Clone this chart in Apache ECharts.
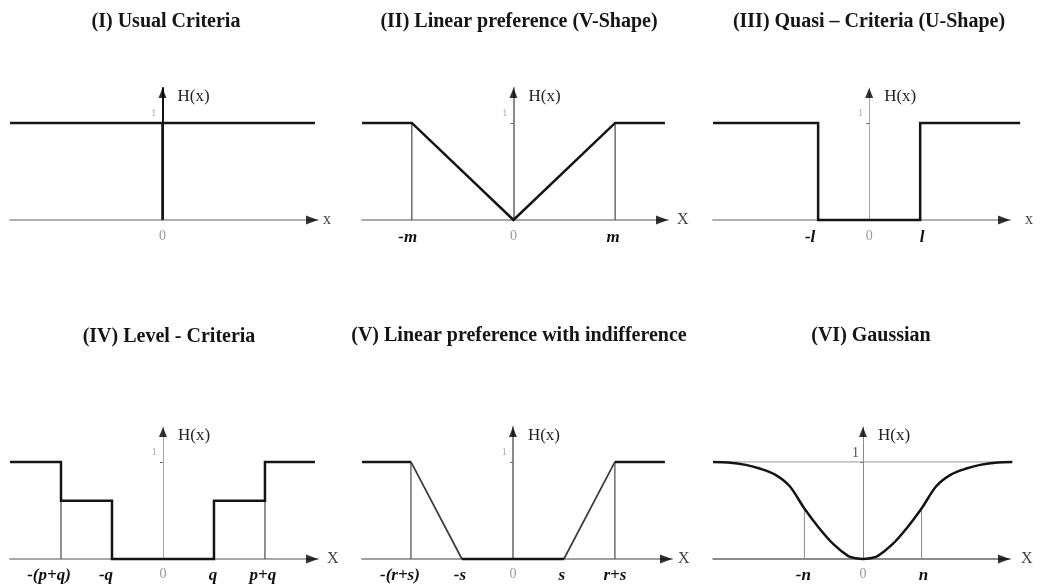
<!DOCTYPE html>
<html>
<head>
<meta charset="utf-8">
<script src="https://cdn.jsdelivr.net/npm/echarts@6/dist/echarts.min.js"></script>
<style>
  html, body { margin: 0; padding: 0; background: #fff; }
  #chart { width: 1042px; height: 586px; }
</style>
</head>
<body>
<div id="chart"></div>
<script>
// ---- panel titles ----
const titles = [
  '(I) Usual Criteria',
  '(II) Linear preference (V-Shape)',
  '(III) Quasi \u2013 Criteria (U-Shape)',
  '(IV) Level - Criteria',
  '(V) Linear preference with indifference',
  '(VI) Gaussian'
];

// ---- breakpoints [x, H(x)] of each preference function ----
const usualH  = [[-3.05, 1], [0, 1], [0, 0], [0, 1], [3.05, 1]];
const vShapeH = [[-1.49, 1], [-1, 1], [0, 0], [1, 1], [1.49, 1]];
const uShapeH = [[-3.06, 1], [-1, 1], [-1, 0], [1, 0], [1, 1], [2.96, 1]];
const levelH  = [[-3.0, 1], [-2, 1], [-2, 0.6], [-1, 0.6], [-1, 0], [1, 0], [1, 0.6], [2, 0.6], [2, 1], [2.98, 1]];
const indiffH = [[-2.96, 1], [-2, 1], [-1, 0], [1, 0], [2, 1], [2.98, 1]];
const gaussX  = [-2.56, -2.3, -2.0, -1.75, -1.5, -1.25, -1.0, -0.75, -0.5, -0.25, -0.12, 0, 0.12, 0.25, 0.5, 0.75, 1.0, 1.25, 1.5, 1.75, 2.0, 2.3, 2.55];
const gaussH  = [1, 0.995, 0.97, 0.93, 0.87, 0.75, 0.52, 0.32, 0.15, 0.03, 0.008, 0, 0.008, 0.03, 0.15, 0.32, 0.52, 0.75, 0.87, 0.93, 0.97, 0.995, 1];

// ---- thin guide lines rising from the x axis: [x, height] ----
const usualDrops  = [];
const vShapeDrops = [[-1, 1], [1, 1]];
const uShapeDrops = [];
const levelDrops  = [[-2, 0.6], [2, 0.6]];
const indiffDrops = [[-2, 1], [2, 1]];
const gaussDrops  = [[-1, 0.52], [1, 0.52]];

// ---- x-axis tick values and labels ----
const usualTicks  = [0];                 const usualLabels  = ['0'];
const vShapeTicks = [-1, 0, 1];          const vShapeLabels = ['-m', '0', 'm'];
const uShapeTicks = [-1, 0, 1];          const uShapeLabels = ['-l', '0', 'l'];
const levelTicks  = [-2, -1, 0, 1, 2];   const levelLabels  = ['-(p+q)', '-q', '0', 'q', 'p+q'];
const indiffTicks = [-2, -1, 0, 1, 2];   const indiffLabels = ['-(r+s)', '-s', '0', 's', 'r+s'];
const gaussTicks  = [-1, 0, 1];          const gaussLabels  = ['-n', '0', 'n'];

// ---- axis extents and names ----
const xRanges = [[-3.05, 3.11], [-1.49, 1.52], [-3.06, 2.76], [-3.0, 3.04], [-2.96, 3.12], [-2.56, 2.51]];
const yMax = 1.36;
const yTicks = [1];
const yTickLabels = ['1'];
const xNames = ['x', 'X', 'x', 'X', 'X', 'X'];
const yName = 'H(x)';

const curves = [usualH, vShapeH, uShapeH, levelH, indiffH, gaussX.map((x, i) => [x, gaussH[i]])];
const drops = [usualDrops, vShapeDrops, uShapeDrops, levelDrops, indiffDrops, gaussDrops];
const ticks = [usualTicks, vShapeTicks, uShapeTicks, levelTicks, indiffTicks, gaussTicks];
const labels = [usualLabels, vShapeLabels, uShapeLabels, levelLabels, indiffLabels, gaussLabels];

// ---- layout and styling of each panel ----
const SERIF = '"Liberation Serif", "Times New Roman", serif';
const layout = [
  { left: 10,  top: 88,  width: 308, title: [166, 20],  nameGap: 5,  shift: [0],
    xLine: { color: '#b0b0b0', width: 2 }, yLine: { color: '#111', width: 2 } },
  { left: 362, top: 88,  width: 306, title: [519, 20],  nameGap: 9,  shift: [4, 0, 2],
    xLine: { color: '#a8a8a8', width: 2 }, yLine: { color: '#8a8a8a', width: 2 } },
  { left: 713, top: 88,  width: 297, title: [869, 20],  nameGap: 15, shift: [8, 0, -2],
    xLine: { color: '#b0b0b0', width: 2 }, yLine: { color: '#a8a8a8', width: 1 } },
  { left: 10,  top: 427, width: 308, title: [169, 335], nameGap: 9,  shift: [12, 6, 0, 1, 2],
    xLine: { color: '#a8a8a8', width: 2 }, yLine: { color: '#a8a8a8', width: 1 } },
  { left: 362, top: 427, width: 310, title: [519, 334], nameGap: 6,  shift: [11, 2, 0, 2, 0], thinSlopes: true,
    xLine: { color: '#a0a0a0', width: 2 }, yLine: { color: '#8a8a8a', width: 2 } },
  { left: 713, top: 427, width: 297, title: [871, 334], nameGap: 11, shift: [1, 0, -2],
    xLine: { color: '#666', width: 1.5 }, yLine: { color: '#888', width: 1 } }
];
const plotHeight = 132;
const N = layout.length;
const CURVE_STYLE = { color: '#141414', width: 2.5, join: 'miter', cap: 'butt' };
const SLOPE_STYLE = { color: '#3a3a3a', width: 1.7, join: 'miter', cap: 'butt' };

const option = { animation: false, title: [], grid: [], xAxis: [], yAxis: [], series: [] };

layout.forEach((L, i) => {
  const [xMin, xMax] = xRanges[i];
  const lastPanel = i === 5;

  option.title.push({
    text: titles[i], left: L.title[0], top: L.title[1] - 8, textAlign: 'center', padding: 0,
    textStyle: { fontFamily: SERIF, fontWeight: 'bold', fontSize: 20, color: '#151515' }
  });

  // axis grid (index i) carries the visible axes; a plot grid (index N + i) with the
  // same scale is widened so curves may run past the x-axis arrow
  option.grid[i] = { left: L.left, top: L.top, width: L.width, height: plotHeight };
  const curveMax = Math.max(xMax, ...curves[i].map(p => p[0]));
  const plotWidth = L.width * (curveMax - xMin) / (xMax - xMin);
  option.grid[N + i] = { left: L.left, top: L.top, width: plotWidth, height: plotHeight };

  // rich styles per tick: value labels in bold italic, the origin in light grey
  const rich = {};
  labels[i].forEach((t, k) => {
    const s = L.shift[k] || 0;
    const pad = [0, s > 0 ? 2 * s : 0, 0, s < 0 ? -2 * s : 0];
    rich['t' + k] = t === '0'
      ? { fontFamily: SERIF, fontSize: 14, color: '#9a9a9a', padding: pad }
      : { fontFamily: SERIF, fontSize: 17, fontWeight: 'bold', fontStyle: 'italic', color: '#111', padding: pad };
  });

  option.xAxis[i] = {
    gridIndex: i, type: 'value', min: xMin, max: xMax,
    axisLine: { show: true, onZero: true, lineStyle: L.xLine },
    axisTick: { show: false },
    splitLine: { show: false },
    axisLabel: {
      show: true, customValues: ticks[i], margin: i < 3 ? 9 : 8,
      formatter: v => { const k = ticks[i].indexOf(v); return '{t' + k + '|' + labels[i][k] + '}'; },
      rich
    },
    name: xNames[i], nameLocation: 'end', nameGap: L.nameGap,
    nameTextStyle: { fontFamily: SERIF, fontSize: 16, color: '#444', verticalAlign: 'middle', align: 'left' }
  };
  option.xAxis[N + i] = { gridIndex: N + i, type: 'value', min: xMin, max: curveMax, show: false };

  option.yAxis[i] = {
    gridIndex: i, type: 'value', min: 0, max: yMax,
    axisLine: { show: true, onZero: true, lineStyle: L.yLine },
    axisTick: { show: true, customValues: yTicks, length: 3, lineStyle: { color: '#666', width: 1 } },
    splitLine: { show: false },
    axisLabel: { show: false },
    name: yName, nameLocation: 'end', nameGap: -9,
    nameTextStyle: { fontFamily: SERIF, fontSize: 17, color: '#222', align: 'left', verticalAlign: 'middle', padding: [0, 0, 0, 15] }
  };
  option.yAxis[N + i] = { gridIndex: N + i, type: 'value', min: 0, max: yMax, show: false };

  const P = N + i;
  const lineSeries = (data, lineStyle, z, extra) => Object.assign({
    type: 'line', xAxisIndex: P, yAxisIndex: P, showSymbol: false, silent: true, clip: false, z,
    data, lineStyle
  }, extra || {});

  // Gaussian panel: thin reference line at H = 1
  if (lastPanel) {
    const c = curves[i];
    option.series.push(lineSeries([[c[0][0], 1], [c[c.length - 1][0], 1]], { color: '#9a9a9a', width: 1 }, 2));
  }

  drops[i].forEach(d => {
    option.series.push(lineSeries([[d[0], 0], [d[0], d[1]]],
      { color: lastPanel ? '#8a8a8a' : '#555', width: lastPanel ? 1 : 1.3 }, 2));
  });

  if (L.thinSlopes) {
    // flat parts heavy, sloped parts lighter
    const c = curves[i];
    for (let k = 0; k < c.length - 1; k++) {
      const flat = c[k][1] === c[k + 1][1];
      option.series.push(lineSeries([c[k], c[k + 1]], flat ? CURVE_STYLE : SLOPE_STYLE, flat ? 3 : 2));
    }
  } else {
    option.series.push(lineSeries(curves[i], CURVE_STYLE, 3, { smooth: lastPanel ? 0.3 : false }));
  }

  // the "1" mark on the vertical axis
  option.series.push({
    type: 'scatter', xAxisIndex: i, yAxisIndex: i, silent: true, clip: false, z: 4,
    symbol: 'circle', symbolSize: 2, itemStyle: { color: 'rgba(0,0,0,0)' },
    data: yTicks.map(v => [0, v]),
    label: {
      show: true, position: 'left', distance: lastPanel ? 3 : 5, offset: [0, lastPanel ? -9 : -10],
      formatter: p => yTickLabels[yTicks.indexOf(p.value[1])],
      fontFamily: SERIF, fontSize: lastPanel ? 14 : 11, color: lastPanel ? '#222' : '#9a9a9a'
    }
  });

  // arrow heads at the ends of both axes
  option.series.push({
    type: 'scatter', xAxisIndex: i, yAxisIndex: i, silent: true, clip: false, z: 4,
    data: [[xMax, 0]], symbol: 'triangle', symbolSize: [9, 12], symbolRotate: -90, symbolOffset: [-6, 0],
    itemStyle: { color: '#000' }
  });
  option.series.push({
    type: 'scatter', xAxisIndex: i, yAxisIndex: i, silent: true, clip: false, z: 4,
    data: [[0, yMax]], symbol: 'triangle', symbolSize: [8, 10], symbolOffset: [0, 5],
    itemStyle: { color: '#000' }
  });
});

const chart = echarts.init(document.getElementById('chart'), null, { renderer: 'canvas' });
chart.setOption(option);
</script>
</body>
</html>
